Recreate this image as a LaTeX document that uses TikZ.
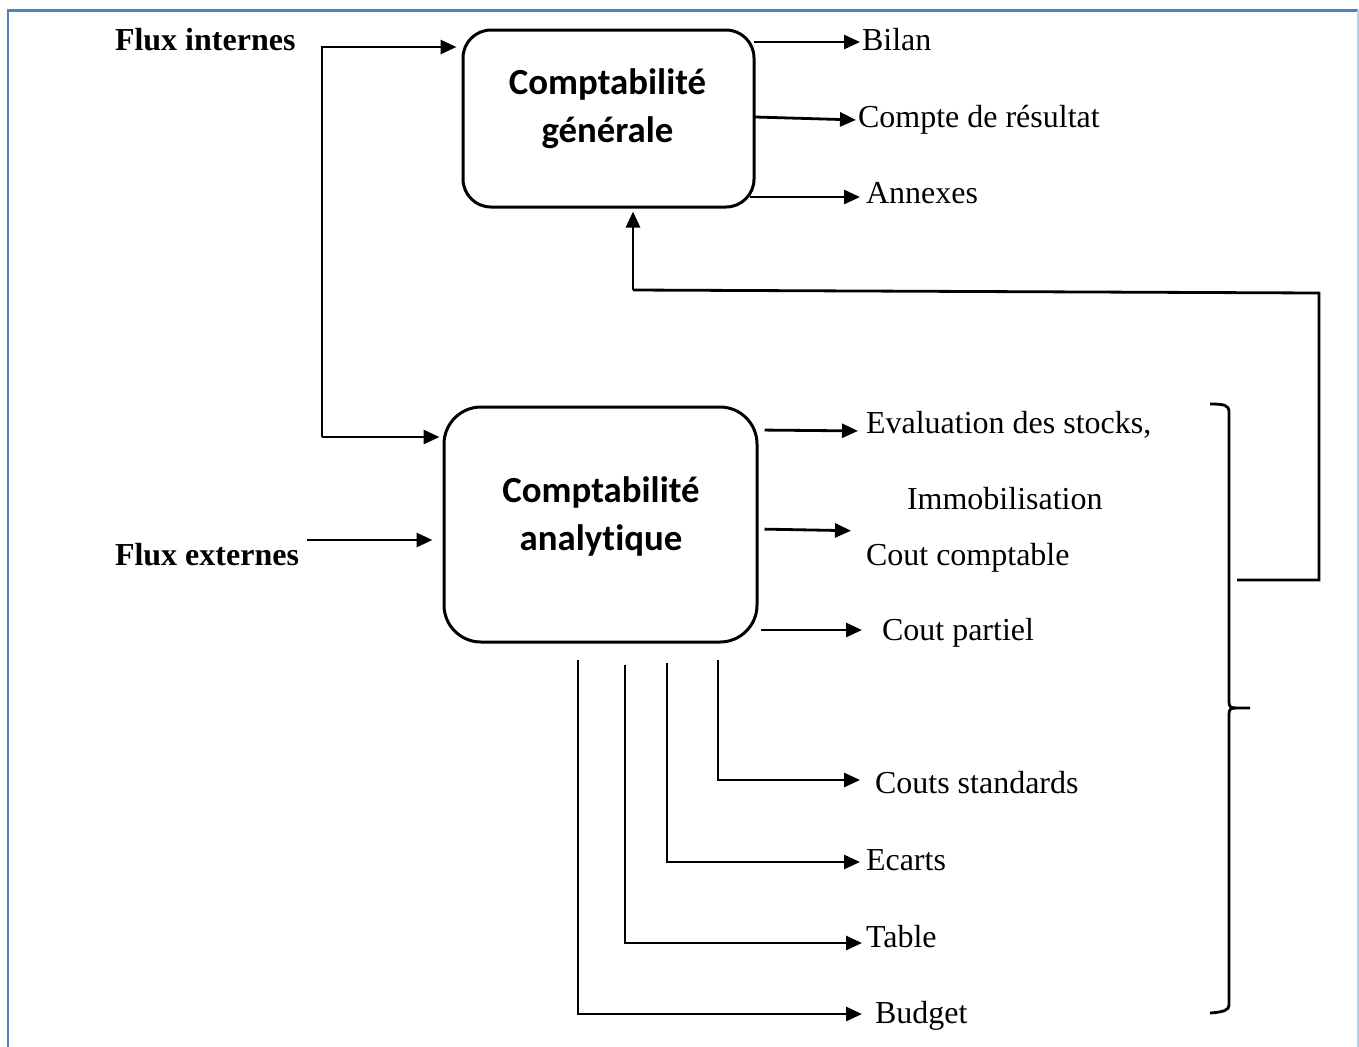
\documentclass[tikz,border=0pt]{standalone}
\usepackage{fontspec}
\setmainfont{Liberation Serif}
\newfontfamily\calibrifont[Ligatures=NoCommon]{Carlito}
\usetikzlibrary{arrows.meta}

\begin{document}
\begin{tikzpicture}[x=0.5pt,y=-0.5pt,
  box/.style={draw,line width=1.5pt,inner sep=0pt},
  boxtext/.style={anchor=base,inner sep=0pt,outer sep=0pt,font=\calibrifont\bfseries\fontsize{18.4}{22}\selectfont},
  lbl/.style={anchor=base west,inner sep=0pt,outer sep=0pt,font=\fontsize{16}{19}\selectfont},
  flux/.style={lbl,font=\bfseries\fontsize{16}{19}\selectfont},
  link/.style={line width=1.4pt},
  arr/.style={link,-{Triangle[length=8pt,width=7pt]}}]
\definecolor{frameColor}{RGB}{79,129,189}
\definecolor{frameLight}{RGB}{184,204,228}
\path[use as bounding box,fill=white] (0,0) rectangle (1359,1046);

% frame
\draw[frameColor,line width=1pt] (8,1060) -- (8,10);
\draw[frameColor,line width=1.5pt] (7,10) -- (1358,10);
\draw[frameLight,line width=0.8pt] (1358,10) -- (1358,1060);

% the two blocks
\node[box,rounded corners=14pt,minimum width=145.5pt,minimum height=88.5pt] (cg) at (608.5,118.5) {};
\node[box,rounded corners=18.5pt,minimum width=156.5pt,minimum height=117.5pt] (ca) at (600.5,524.5) {};

\node[boxtext] (cgA) at (607.5,94) {Comptabilité};
\node[boxtext] (cgB) at (607.5,142) {générale};
\node[boxtext] (caA) at (601,502) {Comptabilité};
\node[boxtext] (caB) at (601,550) {analytique};

% labels
\node[flux] (fi) at (115,50) {Flux internes};
\node[flux] (fe) at (115,565) {Flux externes};

\node[lbl] (bilan) at (862,50) {Bilan};
\node[lbl] (cr) at (858,127) {Compte de résultat};
\node[lbl] (annexes) at (866,203) {Annexes};

\node[lbl] (stocks) at (866,433) {Evaluation des stocks,};
\node[lbl] (immo) at (907,509) {Immobilisation};
\node[lbl] (ccompt) at (866,565) {Cout comptable};
\node[lbl] (cpart) at (882,640) {Cout partiel};

\node[lbl] (cstd) at (875,793) {Couts standards};
\node[lbl] (ecarts) at (866,870) {Ecarts};
\node[lbl] (table) at (866,947) {Table};
\node[lbl] (budget) at (875,1023) {Budget};

% flux internes / externes
\coordinate (fiT) at (322,47);
\coordinate (fiB) at (322,437);
\draw[arr,shorten >=2.5pt] (fiB) -- (fiT) -- (fiT -| cg.west);
\draw[arr,shorten >=1.5pt] (fiB) -- (fiB -| ca.west);
\coordinate (feS) at (307,540);
\draw[arr,shorten >=5pt] (feS) -- (feS -| ca.west);

% sorties comptabilite generale
\draw[arr,shorten <=-1pt,shorten >=1pt] (cg.east |- 0,42) -- (bilan.west |- 0,42);
\draw[arr,shorten <=-1pt,shorten >=1pt] (cg.east |- 0,117) -- (cr.west |- 0,120);
\draw[arr,shorten <=-3pt,shorten >=3pt] (cg.east |- 0,197) -- (annexes.west |- 0,197);

% sorties comptabilite analytique
\draw[arr,shorten <=3pt,shorten >=4pt] (ca.east |- 0,430) -- (stocks.west |- 0,431);
\draw[arr,shorten <=3pt,shorten >=7.5pt] (ca.east |- 0,529) -- (ccompt.west |- 0,531);
\draw[arr,shorten <=1pt,shorten >=10pt] (ca.east |- 0,630) -- (cpart.west |- 0,630);

\coordinate (bStd) at (718,660);
\coordinate (bEc) at (667,663);
\coordinate (bTab) at (625,665);
\coordinate (bBud) at (578,660);
\draw[arr,shorten >=7.5pt] (bStd) |- (cstd.west |- 0,780);
\draw[arr,shorten >=3pt] (bEc) |- (ecarts.west |- 0,862);
\draw[arr,shorten >=2pt] (bTab) |- (table.west |- 0,943);
\draw[arr,shorten >=6.5pt] (bBud) |- (budget.west |- 0,1014);

% retour vers la comptabilite generale
\coordinate (fbL) at (633,290);
\coordinate (fbR) at (1319,293);
\coordinate (fbE) at (1237,580);
\draw[link] (fbE) -| (fbR) -- (fbL);
\draw[arr,shorten >=1.5pt] (fbL) -- (fbL |- cg.south);

% accolade
\draw[link] (1210,404) .. controls (1224,404) and (1229,405) .. (1229,412) -- (1229,702)
  .. controls (1229,707) and (1231,708) .. (1236,708) -- (1250,708);
\draw[link] (1236,708) .. controls (1231,708) and (1229,709) .. (1229,714) -- (1229,1005)
  .. controls (1229,1010) and (1224,1012) .. (1210,1013);
\end{tikzpicture}
\end{document}
